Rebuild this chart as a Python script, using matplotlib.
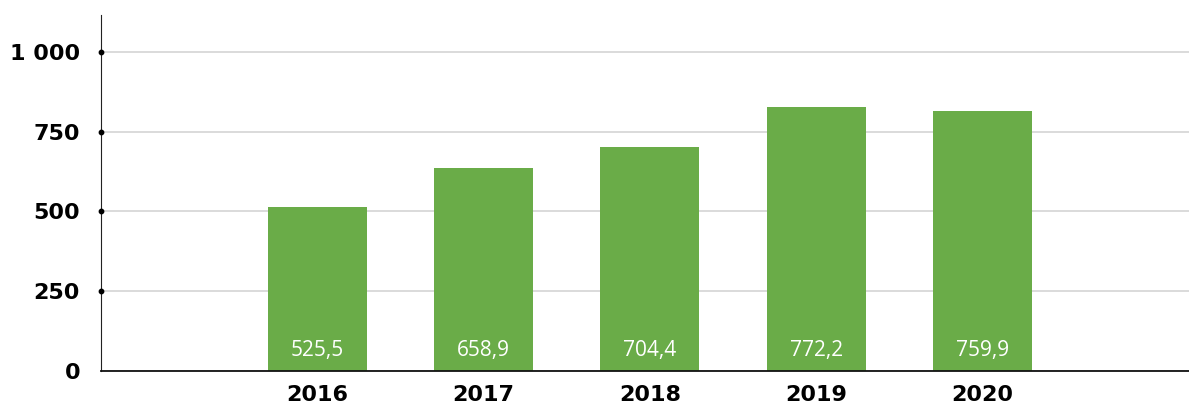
import matplotlib

matplotlib.use("Agg")
import matplotlib.pyplot as plt

years = ["2016", "2017", "2018", "2019", "2020"]
bar_heights = [514, 636, 702, 828, 815]
value_labels = ["525,5", "658,9", "704,4", "772,2", "759,9"]
y_ticks = [0, 250, 500, 750, 1000]
y_tick_labels = ["0", "250", "500", "750", "1 000"]

GREEN = "#6aac48"

fig = plt.figure(figsize=(11.89, 4.03), dpi=100)
ax = fig.add_axes([0.0849, 0.0794, 0.9151, 0.8834])

x = list(range(len(years)))
ax.bar(x, bar_heights, width=0.595, color=GREEN, zorder=2)

for xi, lab in zip(x, value_labels):
    ax.annotate(lab, (xi, 0), xytext=(0, 11), textcoords="offset points",
                ha="center", va="baseline", color="white", fontsize=15,
                family="Open Sans", fontweight="normal", zorder=3)

ax.set_xlim(-1.30, 5.24)
ax.set_ylim(0, 1115)
ax.set_xticks(x)
ax.set_xticklabels(years, fontsize=16, fontweight="bold")
ax.set_yticks(y_ticks)
ax.set_yticklabels(y_tick_labels, fontsize=16, fontweight="bold")
ax.tick_params(axis="both", length=0)
ax.tick_params(axis="y", pad=15)
ax.tick_params(axis="x", pad=10)

ax.grid(axis="y", color="#d4d4d4", linewidth=1.2, zorder=0)
for side in ("top", "right"):
    ax.spines[side].set_visible(False)
ax.spines["left"].set_color("#222222")
ax.spines["bottom"].set_color("#111111")
ax.spines["bottom"].set_linewidth(1.3)

# little dots on the y axis at every tick
ax.scatter([0] * len(y_ticks[1:]), y_ticks[1:], s=10, color="black",
           transform=ax.get_yaxis_transform(), clip_on=False, zorder=4)

fig.savefig("out.png", dpi=100, facecolor="white")
